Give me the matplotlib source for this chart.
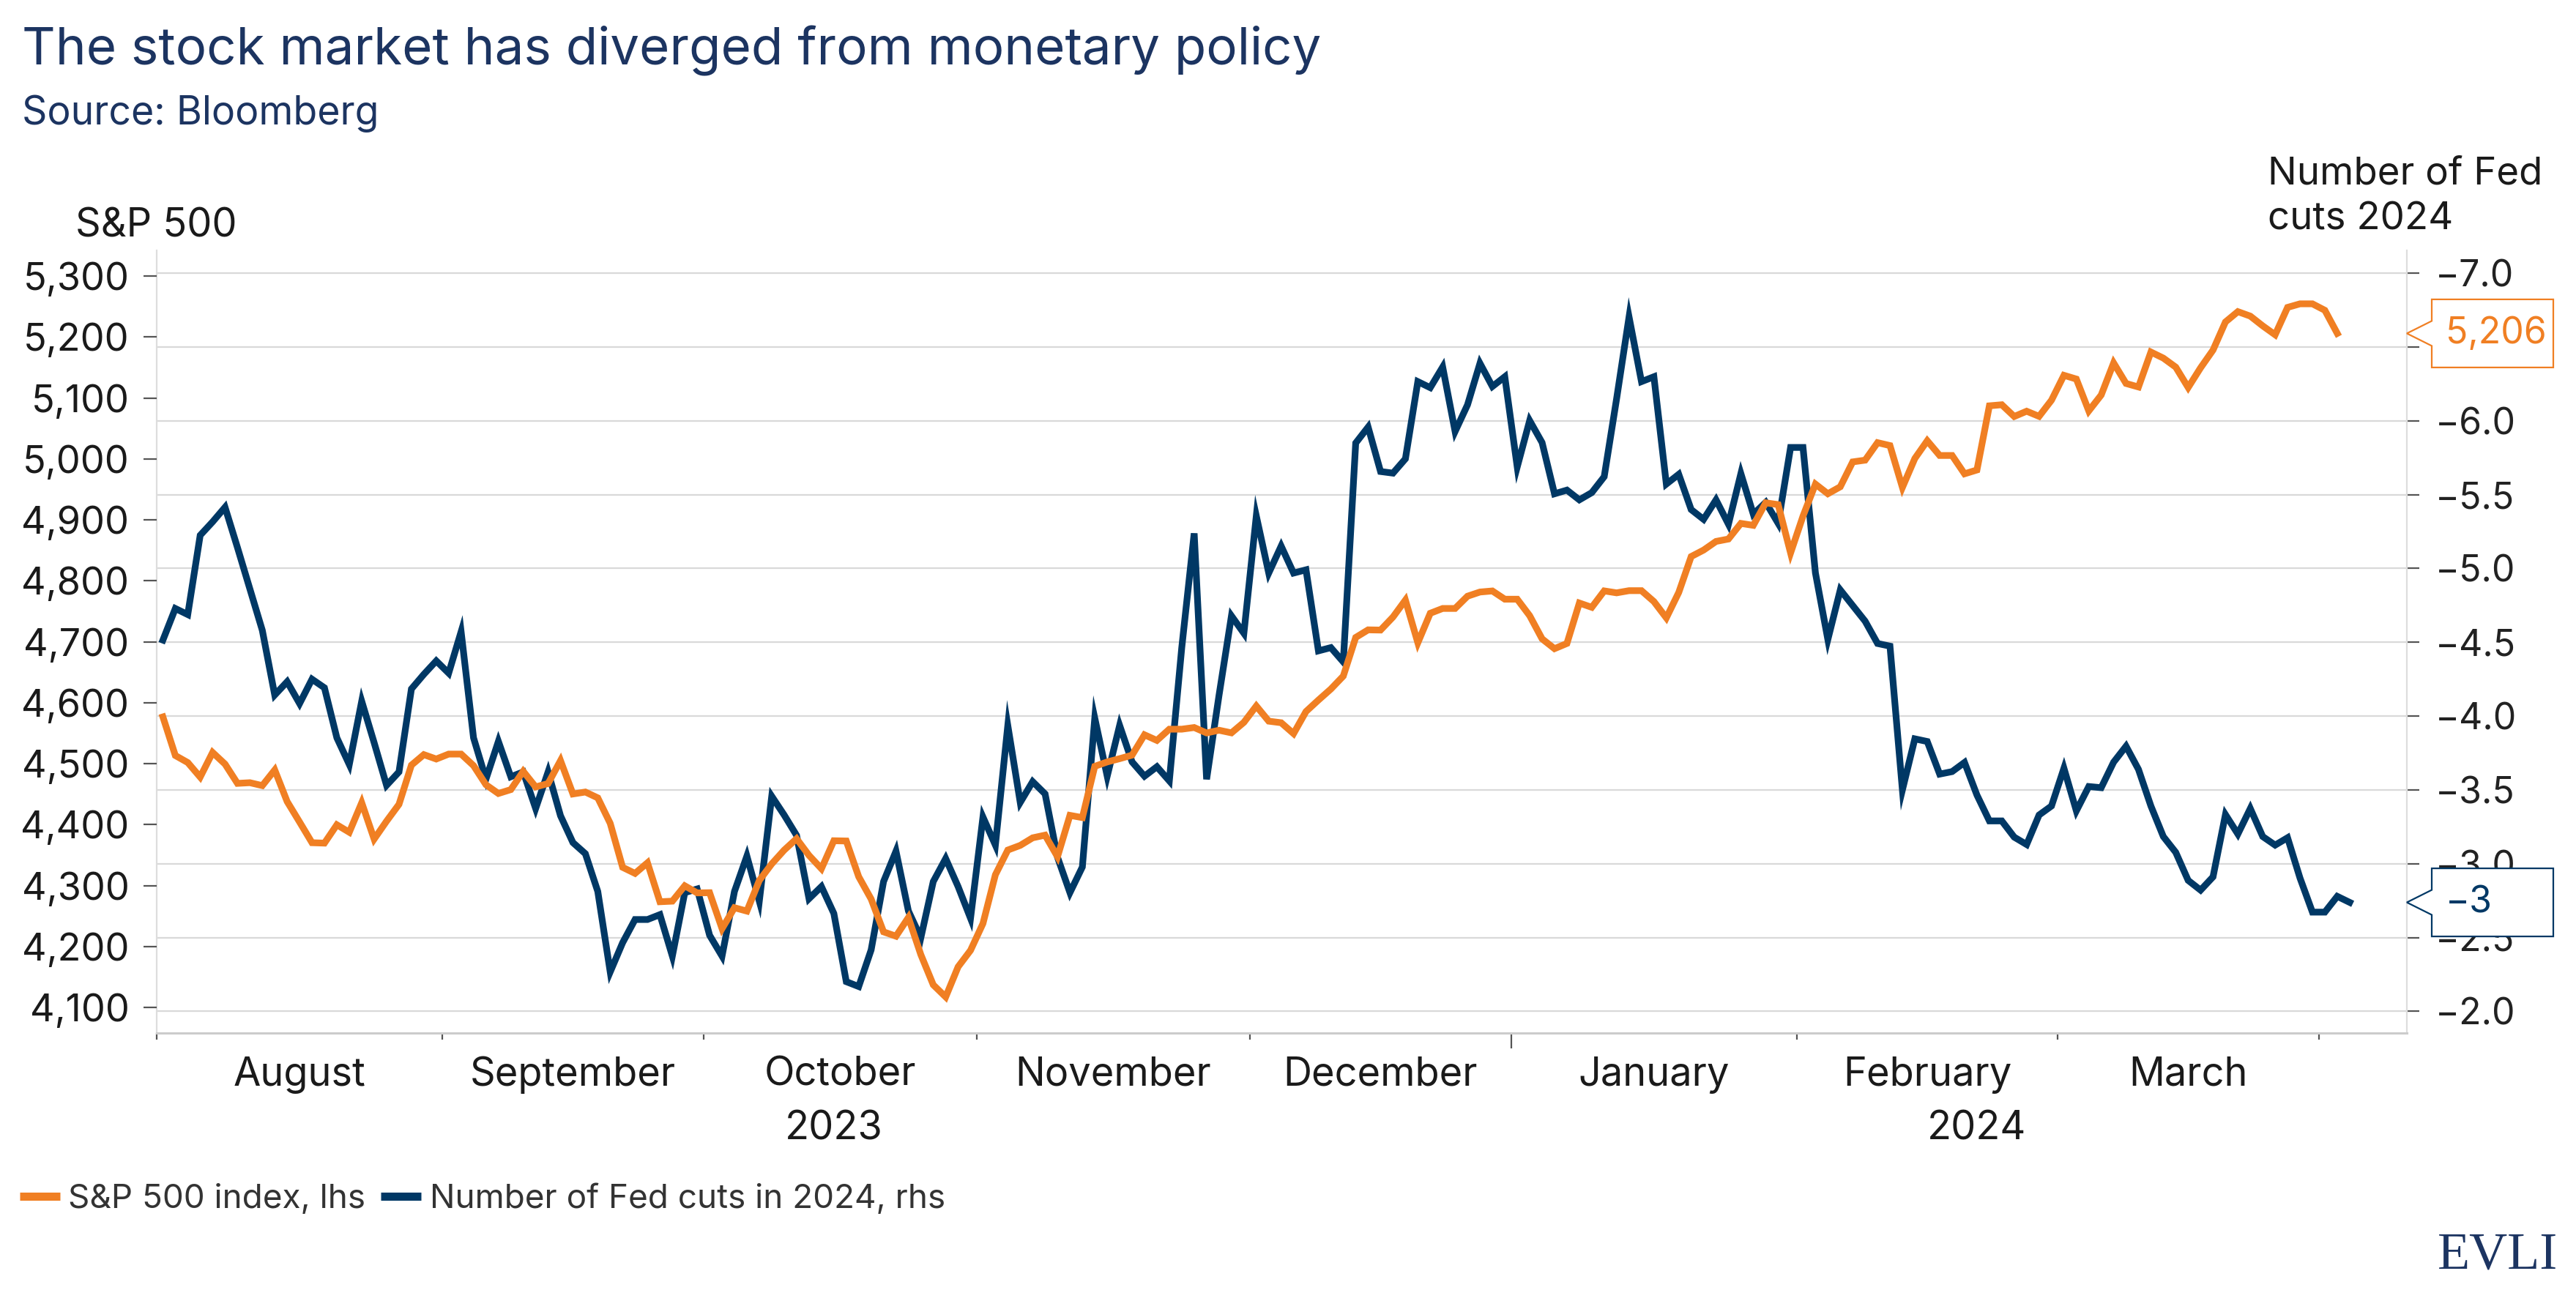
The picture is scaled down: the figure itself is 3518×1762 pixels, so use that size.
import numpy as np
import pandas as pd
import matplotlib
matplotlib.use("Agg")
import matplotlib.pyplot as plt
from matplotlib.patches import Polygon
import matplotlib.transforms as mtransforms

plt.rcParams['font.family'] = ['Inter', 'DejaVu Sans']

# ---------------- data ----------------
# Weekday observations from 1 Aug 2023 (holidays carry the previous close)
spx_aug = [4576.73, 4513.39, 4501.89, 4478.03, 4518.44, 4499.38, 4467.71, 4468.83, 4464.05, 4489.72,
           4437.86, 4404.33, 4370.36, 4369.71, 4399.77, 4387.55, 4436.01, 4376.31, 4405.71, 4433.31,
           4497.63, 4514.87, 4507.66]
spx_sep = [4515.77, 4515.77, 4496.83, 4465.48, 4451.14, 4457.49, 4487.46, 4461.90, 4467.44, 4505.10,
           4450.32, 4453.53, 4443.95, 4402.20, 4330.00, 4320.06, 4337.44, 4273.53, 4274.51, 4299.70,
           4288.05]
spx_oct = [4288.39, 4229.45, 4263.75, 4258.19, 4308.50, 4335.66, 4358.24, 4376.95, 4349.61, 4327.78,
           4373.63, 4373.20, 4314.60, 4278.00, 4224.16, 4217.04, 4247.68, 4186.77, 4137.23, 4117.37,
           4166.82, 4193.80]
spx_nov = [4237.86, 4317.78, 4358.34, 4365.98, 4378.38, 4382.78, 4347.35, 4415.24, 4411.55, 4495.70,
           4502.88, 4508.24, 4514.02, 4547.38, 4538.19, 4556.62, 4556.62, 4559.34, 4550.43, 4554.89,
           4550.58, 4567.80]
spx_dec = [4594.63, 4569.78, 4567.18, 4549.34, 4585.59, 4604.37, 4622.44, 4643.70, 4707.09, 4719.55,
           4719.19, 4740.56, 4768.37, 4698.35, 4746.75, 4754.63, 4754.63, 4774.75, 4781.58, 4783.35,
           4769.83]
spx_jan = [4769.83, 4742.83, 4704.81, 4688.68, 4697.24, 4763.54, 4756.50, 4783.45, 4780.24, 4783.83,
           4783.83, 4765.98, 4739.21, 4780.94, 4839.81, 4850.43, 4864.60, 4868.55, 4894.16, 4890.97,
           4927.93, 4924.97, 4845.65]
spx_feb = [4906.19, 4958.61, 4942.81, 4954.23, 4995.06, 4997.91, 5026.61, 5021.84, 4953.17, 5000.62,
           5029.73, 5005.57, 5005.57, 4975.51, 4981.80, 5087.03, 5088.80, 5069.53, 5078.18, 5069.76,
           5096.27]
spx_mar = [5137.08, 5130.95, 5078.65, 5104.76, 5157.36, 5123.69, 5117.94, 5175.27, 5165.31, 5150.48,
           5117.09, 5149.42, 5178.51, 5224.62, 5241.53, 5234.18, 5218.19, 5203.58, 5248.49, 5254.35,
           5254.35]
spx_apr = [5243.77, 5205.81]

cuts_aug_sep = [-4.515, -4.729, -4.688, -5.225, -5.316, -5.415, -5.142, -4.862, -4.581, -4.143,
                -4.233, -4.085, -4.250, -4.192, -3.853, -3.672, -4.101, -3.820, -3.531, -3.622,
                -4.184, -4.283, -4.374, -4.291, -4.572, -3.853, -3.573, -3.829, -3.589, -3.622,
                -3.374, -3.622, -3.325, -3.143, -3.068, -2.812, -2.267, -2.465, -2.622, -2.622,
                -2.655, -2.374, -2.804, -2.829]
cuts_oct_nov = [-2.515, -2.374, -2.812, -3.052, -2.746, -3.457,
                -3.330, -3.192, -2.763, -2.845, -2.663, -2.201, -2.168, -2.416, -2.879, -3.085,
                -2.680, -2.498, -2.879, -3.035, -2.845, -2.630, -3.316, -3.126, -3.936, -3.415,
                -3.556, -3.473, -3.044, -2.804, -2.978, -3.986, -3.593, -3.937, -3.690, -3.593,
                -3.657, -3.561, -4.464, -5.238, -3.572, -4.141, -4.679, -4.561]
cuts_dec_jan = [-5.356, -4.969, -5.152, -4.969, -4.991, -4.442, -4.464, -4.367, -5.850, -5.958,
                -5.657, -5.646, -5.743, -6.266, -6.225, -6.365, -5.928, -6.109, -6.390, -6.233,
                -6.299, -5.688, -6.002, -5.853, -5.506, -5.531, -5.465, -5.514, -5.622, -6.151,
                -6.704, -6.266, -6.299, -5.572, -5.638, -5.399, -5.333, -5.465, -5.300, -5.643,
                -5.368, -5.448, -5.306, -5.820]
cuts_feb_apr = [-5.820, -4.970, -4.519, -4.855, -4.749, -4.643, -4.492, -4.474, -3.500, -3.846,
                -3.828, -3.607, -3.624, -3.686, -3.465, -3.290, -3.290, -3.180, -3.130, -3.330,
                -3.391, -3.647, -3.358, -3.523, -3.515, -3.688, -3.796, -3.639, -3.391, -3.184,
                -3.077, -2.887, -2.821, -2.911, -3.333, -3.201, -3.374, -3.184, -3.126, -3.176,
                -2.903, -2.672, -2.672, -2.779, -2.738]

spx = np.array(spx_aug + spx_sep + spx_oct + spx_nov + spx_dec + spx_jan + spx_feb + spx_mar + spx_apr)
cuts = np.array(cuts_aug_sep + cuts_oct_nov + cuts_dec_jan + cuts_feb_apr)

dates = pd.bdate_range('2023-08-01', periods=len(cuts))
month_starts = ['2023-08-01', '2023-09-01', '2023-10-01', '2023-11-01', '2023-12-01',
                '2024-01-01', '2024-02-01', '2024-03-01', '2024-04-01']
month_labels = ['August', 'September', 'October', 'November', 'December',
                'January', 'February', 'March']
year_labels = ['2023', '2024']
year_label_pos = ['2023-10-16', '2024-02-21']

lhs_ticks = [4100, 4200, 4300, 4400, 4500, 4600, 4700, 4800, 4900, 5000, 5100, 5200, 5300]
rhs_ticks = [-7.0, -6.5, -6.0, -5.5, -5.0, -4.5, -4.0, -3.5, -3.0, -2.5, -2.0]
rhs_hidden = [-6.5]   # covered by the value callout in the original

spx_label = 'S&P 500 index, lhs'
cuts_label = 'Number of Fed cuts in 2024, rhs'

# ---------------- style ----------------
ORANGE = '#f07f23'
NAVY = '#003865'
TITLE_C = '#1c3461'
GRID = '#d9d9d9'
TXT = '#1a1a1a'

W, H, DPI = 3518, 1762, 200
fig = plt.figure(figsize=(W / DPI, H / DPI), dpi=DPI)
fig.patch.set_facecolor('white')

L, R, T, B = 214, 3287, 342, 1411
ax = fig.add_axes([L / W, 1 - B / H, (R - L) / W, (B - T) / H])
ax_sp = ax.twinx()
ax.yaxis.tick_right()
ax_sp.yaxis.tick_left()

idx = np.arange(len(dates))
x_cuts = idx[:len(cuts)]
x_spx = idx[:len(spx)]

ax.plot(x_cuts, cuts, color=NAVY, lw=3.3, solid_joinstyle='miter', label=cuts_label, zorder=3)
ax_sp.plot(x_spx, spx, color=ORANGE, lw=3.3, solid_joinstyle='miter', label=spx_label, zorder=3)

XMAX = 180.6
ax.set_xlim(-0.5, XMAX)
ax.set_ylim(-1.853, -7.155)
ax_sp.set_ylim(4058.2, 5342)

# grid from rhs axis
ax.set_yticks(rhs_ticks)
ax.set_yticklabels(['' if v in rhs_hidden else f"{v:.1f}".replace('-', '\u2212') for v in rhs_ticks])
ax.grid(axis='y', color=GRID, lw=0.8)
ax.set_axisbelow(True)
ax.tick_params(axis='y', which='major', length=6, width=0.8, color='#555555', pad=8,
               labelsize=18, labelcolor='#222222', right=True, left=False)

ax_sp.set_yticks(lhs_ticks)
ax_sp.set_yticklabels([f"{v:,}" for v in lhs_ticks])
ax_sp.tick_params(axis='y', which='major', length=6.5, width=0.8, color='#555555', pad=7,
                  labelsize=18.8, labelcolor=TXT, left=True, right=False)

# x axis: month boundary ticks and month labels at midpoints
bounds = [dates.searchsorted(pd.Timestamp(d)) - 0.5 for d in month_starts]
mids = [(a + b) / 2 for a, b in zip(bounds[:-1], bounds[1:])]
ax.set_xticks(bounds)
ax.set_xticklabels([''] * len(bounds))
ax.set_xticks(mids, minor=True)
ax.set_xticklabels(month_labels, minor=True)
ax.tick_params(axis='x', which='major', length=3.2, width=0.8, color='#555555')
ax.tick_params(axis='x', which='minor', length=0, pad=11.5, labelsize=19.5, labelcolor=TXT)
jan_i = month_starts.index('2024-01-01')
ax.xaxis.get_major_ticks()[jan_i].tick1line.set_markersize(7.5)

trans_x = mtransforms.blended_transform_factory(ax.transData, ax.transAxes)
for lab, d in zip(year_labels, year_label_pos):
    xp = dates.searchsorted(pd.Timestamp(d))
    ax.text(xp, -0.099, lab, transform=trans_x, ha='center', va='top', fontsize=19.5, color=TXT)

ax.spines['top'].set_visible(False)
for s in ['left', 'right']:
    ax.spines[s].set_color('#dddddd')
    ax.spines[s].set_linewidth(0.8)
ax.spines['bottom'].set_color('#cccccc')
ax.spines['bottom'].set_linewidth(1.1)
for s in ax_sp.spines.values():
    s.set_visible(False)

# ---------------- texts ----------------
fig.text(30 / W, 1 - 88 / H, 'The stock market has diverged from monetary policy',
         fontsize=25.5, color=TITLE_C, ha='left', va='baseline')
fig.text(30 / W, 1 - 170 / H, 'Source: Bloomberg', fontsize=19.3, color=TITLE_C,
         ha='left', va='baseline')
fig.text(103 / W, 1 - 323 / H, 'S&P 500', fontsize=19.5, color=TXT, ha='left', va='baseline')
fig.text(3097 / W, 1 - 251 / H, 'Number of Fed', fontsize=19, color=TXT, ha='left', va='baseline')
fig.text(3097 / W, 1 - 314 / H, 'cuts 2024', fontsize=19, color=TXT, ha='left', va='baseline')
fig.text(3493 / W, 1 - 1732 / H, 'EVLI', fontsize=26, color=TITLE_C, ha='right', va='baseline',
         family=['Liberation Serif', 'DejaVu Serif'])

# legend
h1 = ax_sp.get_lines()[0]
h2 = ax.get_lines()[0]
leg = fig.legend([h1, h2], [spx_label, cuts_label], loc='center left',
                 bbox_to_anchor=(27 / W, 1 - 1638 / H), ncol=2, frameon=False, fontsize=16.5,
                 handlelength=1.2, handletextpad=0.25, columnspacing=0.45, borderpad=0,
                 borderaxespad=0, labelcolor='#333333')
for ln in leg.get_lines():
    ln.set_linewidth(4)
    ln.set_solid_capstyle('butt')

# ---------------- callouts ----------------
inv = fig.transFigure.inverted()


def callout(axis, yval, text, color):
    tx, ty = axis.transData.transform((XMAX, yval))
    left, right, hh, notch = tx + 34, tx + 200, 46.5, 17
    verts = [(tx, ty), (left, ty + notch), (left, ty + hh), (right, ty + hh),
             (right, ty - hh), (left, ty - hh), (left, ty - notch)]
    poly = Polygon(inv.transform(verts), closed=True, facecolor='white', edgecolor=color,
                   lw=0.8, transform=fig.transFigure, zorder=10, clip_on=False)
    fig.add_artist(poly)
    px, py = inv.transform((left + 19, ty))
    fig.text(px, py, text, color=color, fontsize=18, ha='left', va='center', zorder=11)


callout(ax_sp, spx[-1], f"{spx[-1]:,.0f}", ORANGE)
callout(ax, cuts[-1], f"{cuts[-1]:.0f}".replace('-', '\u2212'), NAVY)

fig.savefig('out.png', dpi=DPI, facecolor='white')
